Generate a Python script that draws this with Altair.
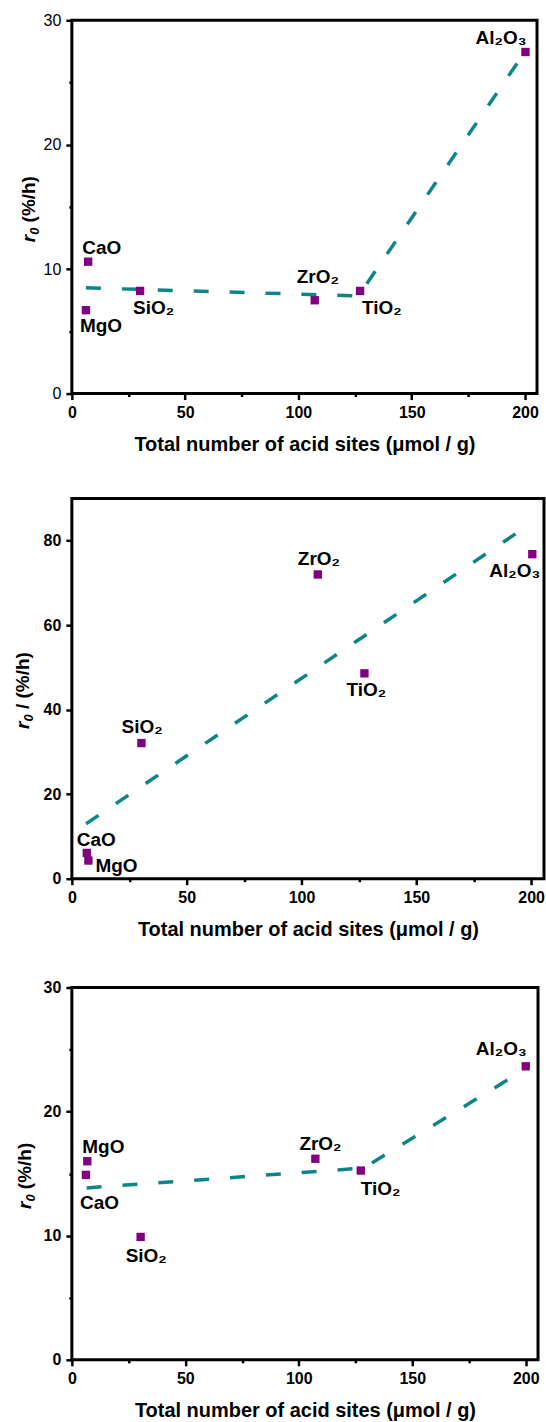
import altair as alt
import pandas as pd

# ---------------- data ----------------
oxides = ["CaO", "MgO", "SiO₂", "ZrO₂", "TiO₂", "Al₂O₃"]

# panel A
acid_a = [7.2, 6.2, 30.1, 107.2, 127.2, 200.2]
rate_a = [10.6, 6.7, 8.25, 7.5, 8.25, 27.45]
trend_a_x = [6.2, 126.5, 199.0]
trend_a_y = [8.5, 7.85, 27.2]

# panel B
acid_b = [6.5, 7.2, 30.3, 107.1, 127.4, 200.5]
rate_b = [6.1, 4.3, 32.1, 72.0, 48.6, 76.8]
trend_b_x = [6.2, 200.0]
trend_b_y = [13.0, 84.1]

# panel C
acid_c = [6.2, 6.8, 30.3, 107.3, 127.3, 200.0]
rate_c = [14.9, 16.0, 9.9, 16.2, 15.25, 23.65]
trend_c_x = [6.5, 128.5, 200.0]
trend_c_y = [13.85, 15.45, 23.45]

x_ticks = [0, 25, 50, 75, 100, 125, 150, 175, 200]
y_ticks_a = [0, 5, 10, 15, 20, 25, 30]
y_ticks_b = [0, 20, 40, 60, 80]
y_ticks_c = [0, 5, 10, 15, 20, 25, 30]

x_title = "Total number of acid sites (μmol / g)"

# ---------------- styling ----------------
FONT = "Liberation Sans"
PURPLE = "#800080"
TEAL = "#0e8585"

# label offsets (px) per panel, same order as oxides
off_a = [(-6, -8), (-6, 22), (-7, 23), (-18, -17), (2, 23), (-50, -8)]
off_b = [(-10, -7), (7, 11), (-20, -10), (-20, -9), (-18, 23), (-43, 23)]
off_c = [(-6, 34), (-5, -8), (-15, 25), (-16, -9), (0, 24), (-50, -11)]


def panel(acid, rate, tx, ty, xmax, ymax, yvals, major_y, off, w, h,
          y_rest, ylab_weight, title_x, title_w):
    df = pd.DataFrame({"oxide": oxides, "acid": acid, "rate": rate})
    tr = pd.DataFrame({"acid": tx, "rate": ty})
    xs = alt.Scale(domain=[0, xmax], nice=False, zero=False)
    ys = alt.Scale(domain=[0, ymax], nice=False, zero=False)

    xaxis = alt.Axis(
        values=x_ticks, grid=False, domain=False,
        labelExpr="datum.value % 50 == 0 ? datum.label : ''",
        tickSize={"condition": {"test": "datum.value % 50 != 0", "value": 3}, "value": 6},
        tickColor="black", tickWidth=2.5, labelPadding=5,
        labelFont=FONT, labelFontSize=16, labelFontWeight="bold", labelColor="black",
        labelFlush=False, labelOverlap=False,
        title=x_title, titleFont=FONT, titleFontSize=20, titleFontWeight="bold",
        titleColor="black", titlePadding=14,
    )
    yaxis = alt.Axis(
        values=yvals, grid=False, domain=False,
        labelExpr=f"datum.value % {major_y} == 0 ? datum.label : ''",
        tickSize={"condition": {"test": f"datum.value % {major_y} != 0", "value": 3}, "value": 6},
        tickColor="black", tickWidth=2.5, labelPadding=5,
        labelFont=FONT, labelFontSize=16, labelFontWeight=ylab_weight, labelColor="black",
        labelFlush=False, labelOverlap=False,
        title="",
    )

    base = alt.Chart(df)
    line = alt.Chart(tr).mark_line(
        color=TEAL, strokeWidth=3.5, strokeDash=[15, 21]
    ).encode(
        x=alt.X("acid:Q", scale=xs, axis=xaxis),
        y=alt.Y("rate:Q", scale=ys, axis=yaxis),
    )
    pts = base.mark_point(
        shape="square", filled=True, size=70, color=PURPLE, opacity=1
    ).encode(
        x=alt.X("acid:Q", scale=xs),
        y=alt.Y("rate:Q", scale=ys),
    )
    layers = [line, pts]
    for name, (dx, dy) in zip(oxides, off):
        layers.append(
            base.transform_filter(alt.datum.oxide == name).mark_text(
                font=FONT, fontSize=19, fontWeight="bold", color="black",
                align="left", baseline="alphabetic", dx=dx, dy=dy,
            ).encode(
                x=alt.X("acid:Q", scale=xs),
                y=alt.Y("rate:Q", scale=ys),
                text="oxide:N",
            )
        )
    # y-axis title: italic r, subscript 0, upright rest
    one = pd.DataFrame({"k": [0]})
    y0 = h / 2 + title_w / 2
    layers.append(alt.Chart(one).mark_text(
        font=FONT, fontSize=19, fontWeight="bold", fontStyle="italic",
        angle=270, align="left", baseline="alphabetic", color="black",
    ).encode(x=alt.value(title_x), y=alt.value(y0), text=alt.value("r")))
    layers.append(alt.Chart(one).mark_text(
        font=FONT, fontSize=13, fontWeight="bold", fontStyle="italic",
        angle=270, align="left", baseline="alphabetic", color="black", dx=7.6, dy=4,
    ).encode(x=alt.value(title_x), y=alt.value(y0), text=alt.value("0")))
    layers.append(alt.Chart(one).mark_text(
        font=FONT, fontSize=19, fontWeight="bold",
        angle=270, align="left", baseline="alphabetic", color="black", dx=20,
    ).encode(x=alt.value(title_x), y=alt.value(y0), text=alt.value(y_rest)))
    # invisible anchor that fixes the left edge of the panel's bounds
    layers.append(alt.Chart(one).mark_point(
        size=1, opacity=0, filled=True
    ).encode(x=alt.value(-65), y=alt.value(h / 2)))

    return alt.layer(*layers).properties(width=w, height=h)


pa = panel(acid_a, rate_a, trend_a_x, trend_a_y, 205.3, 30, y_ticks_a, 10, off_a,
           466, 374, "(%/h)", "normal", -37, 71)
pb = panel(acid_b, rate_b, trend_b_x, trend_b_y, 205.6, 90, y_ticks_b, 20, off_b,
           473, 381, "/ (%/h)", "bold", -43, 81)
pc = panel(acid_c, rate_c, trend_c_x, trend_c_y, 205.4, 30, y_ticks_c, 10, off_c,
           467, 373, "(%/h)", "bold", -41, 71)

chart = alt.vconcat(
    alt.vconcat(pa, pb, spacing=40),
    pc,
    spacing=36,
).properties(
    padding={"left": 5, "top": 9, "right": 0, "bottom": 0},
    background="white",
).configure_view(
    stroke="black", strokeWidth=3
)

chart.save("out.html", embed_options={"renderer": "svg", "actions": False})
